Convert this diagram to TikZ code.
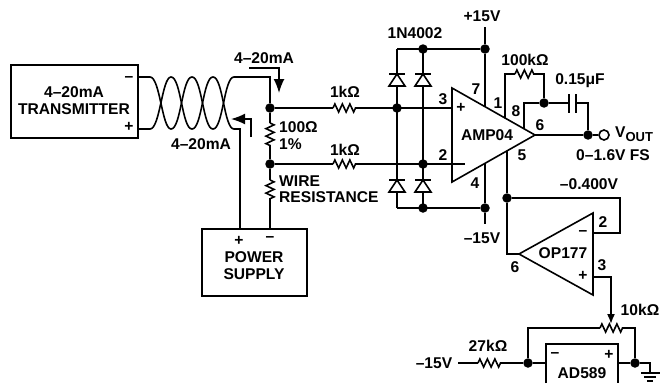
\documentclass[tikz,border=0pt]{standalone}
\usepackage{fontspec}
\setmainfont{Liberation Sans}
\usetikzlibrary{arrows.meta,decorations.pathmorphing}
\tikzset{
  wire/.style={line width=1.6pt},
  lbl/.style={font=\fontsize{15.6}{17}\selectfont\bfseries,inner sep=0pt,align=center},
  jct/.style={circle,fill=black,inner sep=0pt,minimum size=9.5pt},
  res/.style={wire,decorate,decoration={zigzag,segment length=7.5pt,amplitude=4pt}},
  flow/.style={line width=1.6pt,-{Latex[length=14pt,width=11pt]}},
}
\begin{document}
\begin{tikzpicture}[x=1pt,y=-1pt]
  \useasboundingbox (0,0) rectangle (660,383);
  % boxes
  \node[wire,draw,minimum width=127pt,minimum height=73pt,inner sep=0pt] (xmtr) at (74.5,101.5) {};
  \node[wire,draw,minimum width=105pt,minimum height=67pt,inner sep=0pt] (psu) at (254.5,262.5) {};
  \draw[wire] (546,383) -- (546,344) -- (618,344) -- (618,383);
  \node[lbl] at (74,92) {4–20mA};
  \node[lbl] at (74,109) {TRANSMITTER};
  \node[lbl] at (129,79) {–};
  \node[lbl] at (129,127) {+};
  \node[lbl] at (239,241) {+};
  \node[lbl] at (270,239) {–};
  \node[lbl] at (254,257) {POWER};
  \node[lbl] at (254,274) {SUPPLY};
  \node[lbl] at (582,373) {AD589};
  \node[lbl] at (555,355) {–};
  \node[lbl] at (609,355) {+};
  % junctions
  \node[jct] (hi) at (270,108) {};
  \node[jct] (lo) at (270,164) {};
  \node[jct] (clampp) at (397,108) {};
  \node[jct] (clampn) at (423,164) {};
  \node[jct] (dtop) at (423,49) {};
  \node[jct] (vpos) at (485,49) {};
  \node[jct] (dbot) at (423,208) {};
  \node[jct] (vneg) at (485,208) {};
  \node[jct] (fbk) at (544,103) {};
  \node[jct] (out) at (588,135) {};
  \node[jct] (ref) at (507,198) {};
  \node[jct] (refl) at (528,363) {};
  \node[jct] (refr) at (635,363) {};
  \node[wire,draw,circle,fill=white,inner sep=0pt,minimum size=10pt] (vout) at (604,135) {};
  % twisted pair
  \draw[wire] (138,77) -- (150,77)
    .. controls (160,77) and (162,129) .. (171,129)
    .. controls (181,129) and (182,77) .. (192,77)
    .. controls (202,77) and (203,129) .. (213,129)
    .. controls (223,129) and (224,77) .. (234,77) -- (270,77) -- (hi);
  \draw[wire] (138,129) -- (150,129)
    .. controls (160,129) and (162,77) .. (171,77)
    .. controls (181,77) and (182,129) .. (192,129)
    .. controls (202,129) and (203,77) .. (213,77)
    .. controls (223,77) and (224,129) .. (234,129) -- (240,129) -- (240,229);
  \draw[flow] (249,68) -- (279,68) -- (279,93);
  \draw[flow] (251,137) -- (251,119) -- (231,119);
  \node[lbl] at (264,58) {4–20mA};
  \node[lbl] at (201,144) {4–20mA};
  % sense resistors
  \draw[wire] (hi) -- (270,123);
  \draw[res] (270,123) -- (270,147);
  \draw[wire] (270,147) -- (lo) -- (270,180);
  \draw[res] (270,180) -- (270,201);
  \draw[wire] (270,201) -- (270,229);
  \node[lbl,anchor=west] at (279,127) {100Ω};
  \node[lbl,anchor=west] at (279,144) {1\%};
  \node[lbl,anchor=west] at (279,181) {WIRE};
  \node[lbl,anchor=west] at (279,197) {RESISTANCE};
  % input lines
  \draw[wire] (hi) -- (333,108);
  \draw[res] (333,108) -- (357,108);
  \draw[wire] (357,108) -- (452,108);
  \draw[wire] (lo) -- (333,164);
  \draw[res] (333,164) -- (357,164);
  \draw[wire] (357,164) -- (465,164);
  \node[lbl] at (345,92) {1kΩ};
  \node[lbl] at (345,150) {1kΩ};
  % diodes
  \draw[wire] (397,49) -- (vpos);
  \draw[wire] (397,208) -- (vneg);
  \foreach \xx in {397,423}
   {
    \draw[wire] (\xx,49) -- (\xx,208);
    \draw[wire] (\xx-8,74) -- (\xx+8,74);
    \draw[wire,fill=white] (\xx,74) -- (\xx-8,86) -- (\xx+8,86) -- cycle;
    \draw[wire] (\xx-8,180) -- (\xx+8,180);
    \draw[wire,fill=white] (\xx,180) -- (\xx-8,192) -- (\xx+8,192) -- cycle;
   }
  \node[lbl] at (415,33) {1N4002};
  \node[lbl] at (482,16) {+15V};
  \node[lbl] at (482,238) {–15V};
  % AMP04
  \draw[wire] (452,88) -- (535,135) -- (452,182) -- cycle;
  \draw[wire] (485,27) -- (vpos) -- (485,107);
  \draw[wire] (485,163) -- (vneg) -- (485,224);
  \node[lbl] at (487,135) {AMP04};
  \node[lbl] at (461,108) {+};
  \node[lbl] at (443,99) {3};
  \node[lbl] at (443,155) {2};
  \node[lbl] at (476,89) {7};
  \node[lbl] at (475,183) {4};
  \node[lbl] at (498,103) {1};
  \node[lbl] at (516,111) {8};
  \node[lbl] at (540,125) {6};
  \node[lbl] at (522,155) {5};
  % feedback
  \draw[wire] (505,118) -- (505,74) -- (515,74);
  \draw[res] (515,74) -- (537,74);
  \draw[wire] (537,74) -- (544,74) -- (fbk);
  \draw[wire] (524,129) -- (524,103) -- (fbk) -- (569,103);
  \draw[wire] (569,94) -- (569,113);
  \draw[wire] (576,94) -- (576,113);
  \draw[wire] (576,103) -- (588,103) -- (out);
  \node[lbl] at (525,60) {100kΩ};
  \node[lbl] at (580,81) {0.15μF};
  % output
  \draw[wire] (535,135) -- (out) -- (vout);
  \node[lbl,anchor=west] at (615,134) {V\raisebox{-4pt}{\fontsize{13}{14}\selectfont OUT}};
  \node[lbl] at (613,155) {0–1.6V FS};
  % OP177
  \draw[wire] (507,151) -- (ref) -- (507,254) -- (519,254);
  \draw[wire] (ref) -- (620,198) -- (620,233) -- (593,233);
  \node[lbl] at (589,184) {–0.400V};
  \draw[wire] (593,213) -- (593,295) -- (519,254) -- cycle;
  \node[lbl] at (563,253) {OP177};
  \node[lbl] at (583,233) {–};
  \node[lbl] at (583,276) {+};
  \node[lbl] at (603,222) {2};
  \node[lbl] at (602,265) {3};
  \node[lbl] at (515,267) {6};
  % reference
  \draw[wire,-{Latex[length=10pt,width=8pt]}] (593,277) -- (611,277) -- (611,324);
  \draw[wire] (refl) -- (528,328) -- (600,328);
  \draw[res] (600,328) -- (623,328);
  \draw[wire] (623,328) -- (635,328) -- (refr);
  \node[lbl] at (640,310) {10kΩ};
  \draw[wire] (458,363) -- (478,363);
  \draw[res] (478,363) -- (502,363);
  \draw[wire] (502,363) -- (refl) -- (546,363);
  \draw[wire] (618,363) -- (refr) -- (650,363) -- (650,373);
  \draw[wire] (641,373) -- (660,373);
  \draw[wire] (644,377) -- (656,377);
  \draw[wire] (647,381) -- (653,381);
  \node[lbl] at (488,346) {27kΩ};
  \node[lbl] at (434,363) {–15V};
\end{tikzpicture}
\end{document}
